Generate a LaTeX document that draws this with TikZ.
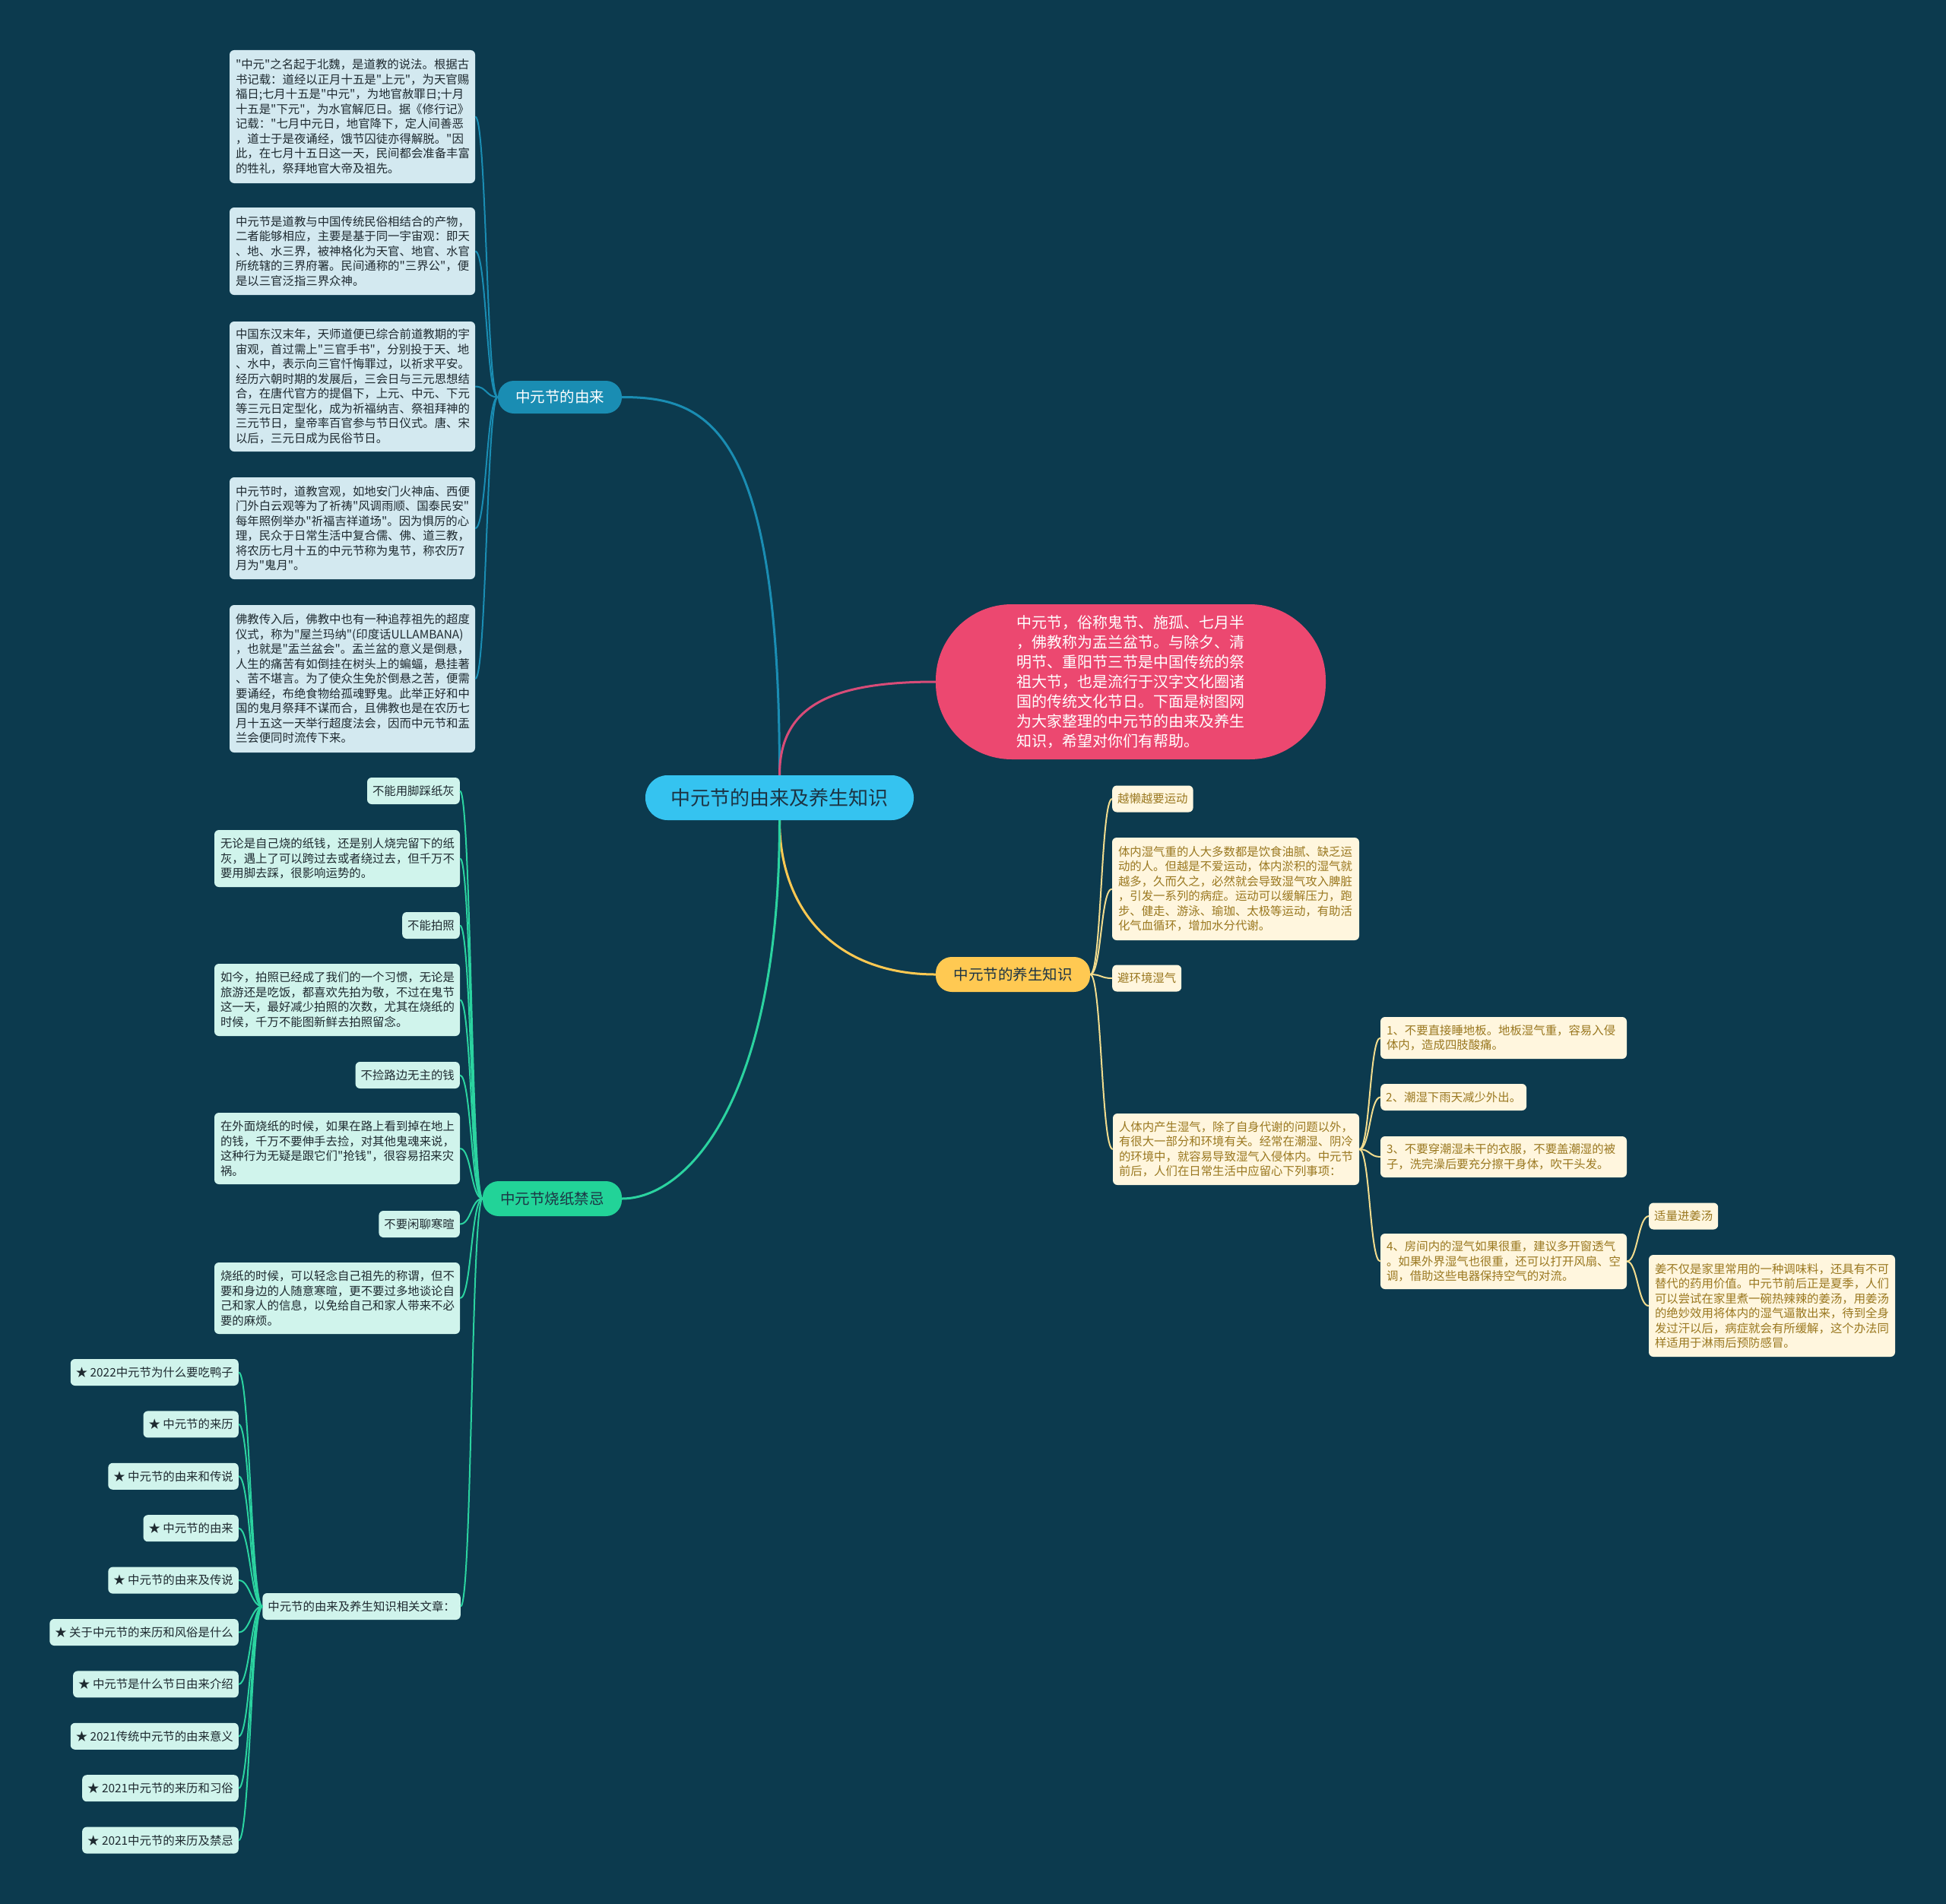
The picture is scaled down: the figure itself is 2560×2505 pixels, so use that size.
\documentclass[tikz,border=0pt]{standalone}
\usepackage{fontspec}
\setmainfont{Noto Sans CJK SC}
\newfontfamily\cjkplain{Noto Sans CJK SC}
\definecolor{bg}{HTML}{0C3A4E}
\definecolor{rootc}{HTML}{35C3F0}
\definecolor{roottext}{HTML}{1C3444}
\definecolor{pinkc}{HTML}{EC4870}
\definecolor{pinkline}{HTML}{D84C78}
\definecolor{bluec}{HTML}{1A8DB3}
\definecolor{yelc}{HTML}{FFC952}
\definecolor{yelline}{HTML}{F2DC8E}
\definecolor{greenc}{HTML}{22D398}
\definecolor{greenline}{HTML}{2BD3A0}
\definecolor{bluebox}{HTML}{D3E9F0}
\definecolor{greenbox}{HTML}{D0F4EC}
\definecolor{yelbox}{HTML}{FFF6DE}
\definecolor{yeltext}{HTML}{9A7820}
\definecolor{darktext}{HTML}{1E2A30}
\tikzset{
  sfont/.style={font=\cjkplain\fontsize{15.4pt}{19.5pt}\selectfont},
  bbox/.style={sfont, fill=bluebox, text=darktext, rounded corners=6pt, inner xsep=8pt, inner ysep=4pt, align=left},
  gbox/.style={bbox, fill=greenbox},
  ybox/.style={bbox, fill=yelbox, text=yeltext},
  shortbox/.style={minimum height=35pt, inner xsep=7pt},
  branch/.style={font=\cjkplain\fontsize{19.5pt}{23pt}\selectfont, rounded corners=21pt, inner sep=0pt},
  bline/.style={draw=bluec, line width=2pt},
  gline/.style={draw=greenline, line width=2pt},
  yline/.style={draw=yelline, line width=2pt},
  mainline/.style={line width=3pt},
}
\begin{document}
\begin{tikzpicture}[x=1pt,y=-1pt]
\useasboundingbox (0,0) rectangle (2560,2505);
\fill[bg] (0,0) rectangle (2560,2505);

% main nodes
\node[font=\cjkplain\fontsize{26pt}{30pt}\selectfont, fill=rootc, text=roottext, rounded corners=29pt, minimum width=353pt, minimum height=59pt, inner sep=0pt] (root) at (1025.5,1049.5) {中元节的由来及养生知识};
\node[fill=pinkc, text=white, rounded corners=100pt, minimum width=513pt, minimum height=204pt, inner sep=0pt, font=\cjkplain\fontsize{20pt}{26pt}\selectfont, align=left] (intro) at (1487.5,897) {中元节，俗称鬼节、施孤、七月半\\，佛教称为盂兰盆节。与除夕、清\\明节、重阳节三节是中国传统的祭\\祖大节，也是流行于汉字文化圈诸\\国的传统文化节日。下面是树图网\\为大家整理的中元节的由来及养生\\知识，希望对你们有帮助。};
\node[branch, fill=bluec, text=white, minimum width=163pt, minimum height=43pt] (origin) at (736.5,522.5) {中元节的由来};
\node[branch, fill=yelc, text=roottext, minimum width=203pt, minimum height=46pt] (health) at (1332.5,1282) {中元节的养生知识};
\node[branch, fill=greenc, text=roottext, minimum width=183pt, minimum height=46pt] (taboo) at (726.5,1577) {中元节烧纸禁忌};

\draw[mainline, bluec] (root.north) .. controls +(0,-460) and +(112,0) .. (origin.east);
\draw[mainline, pinkline] (root.north) .. controls +(0,-90) and +(-140,0) .. (intro.west);
\draw[mainline, yelc] (root.south) .. controls +(0,120) and +(-130,0) .. (health.west);
\draw[mainline, greenline] (root.south) .. controls +(0,370) and +(85,0) .. (taboo.east);

% blue children
\node[bbox, text width=307pt, minimum height=175pt] (b1) at (463.5,153.5) {"中元"之名起于北魏，是道教的说法。根据古\\书记载：道经以正月十五是"上元"，为天官赐\\福日;七月十五是"中元"，为地官赦罪日;十月\\十五是"下元"，为水官解厄日。据《修行记》\\记载："七月中元日，地官降下，定人间善恶\\，道士于是夜诵经，饿节囚徒亦得解脱。"因\\此，在七月十五日这一天，民间都会准备丰富\\的牲礼，祭拜地官大帝及祖先。};
\node[bbox, text width=307pt, minimum height=115pt] (b2) at (463.5,330.5) {中元节是道教与中国传统民俗相结合的产物，\\二者能够相应，主要是基于同一宇宙观：即天\\、地、水三界，被神格化为天官、地官、水官\\所统辖的三界府署。民间通称的"三界公"，便\\是以三官泛指三界众神。};
\node[bbox, text width=307pt, minimum height=171pt] (b3) at (463.5,508.5) {中国东汉末年，天师道便已综合前道教期的宇\\宙观，首过需上"三官手书"，分别投于天、地\\、水中，表示向三官忏悔罪过，以祈求平安。\\经历六朝时期的发展后，三会日与三元思想结\\合，在唐代官方的提倡下，上元、中元、下元\\等三元日定型化，成为祈福纳吉、祭祖拜神的\\三元节日，皇帝率百官参与节日仪式。唐、宋\\以后，三元日成为民俗节日。};
\node[bbox, text width=307pt, minimum height=134pt] (b4) at (463.5,695) {中元节时，道教宫观，如地安门火神庙、西便\\门外白云观等为了祈祷"风调雨顺、国泰民安"\\每年照例举办"祈福吉祥道场"。因为惧厉的心\\理，民众于日常生活中复合儒、佛、道三教，\\将农历七月十五的中元节称为鬼节，称农历7\\月为"鬼月"。};
\node[bbox, text width=307pt, minimum height=194pt] (b5) at (463.5,893) {佛教传入后，佛教中也有一种追荐祖先的超度\\仪式，称为"屋兰玛纳"(印度话ULLAMBANA)\\，也就是"盂兰盆会"。盂兰盆的意义是倒悬，\\人生的痛苦有如倒挂在树头上的蝙蝠，悬挂著\\、苦不堪言。为了使众生免於倒悬之苦，便需\\要诵经，布绝食物给孤魂野鬼。此举正好和中\\国的鬼月祭拜不谋而合，且佛教也是在农历七\\月十五这一天举行超度法会，因而中元节和盂\\兰会便同时流传下来。};
\foreach \c in {b1,b2,b3,b4,b5}
  \draw[bline] (origin.west) .. controls +(-15,0) and +(15,0) .. (\c.east);

% yellow children
\node[ybox, shortbox, anchor=west] (y1) at (1463,1051) {越懒越要运动};
\node[ybox, text width=309pt, minimum height=135pt] (y2) at (1625.5,1169.5) {体内湿气重的人大多数都是饮食油腻、缺乏运\\动的人。但越是不爱运动，体内淤积的湿气就\\越多，久而久之，必然就会导致湿气攻入脾脏\\，引发一系列的病症。运动可以缓解压力，跑\\步、健走、游泳、瑜珈、太极等运动，有助活\\化气血循环，增加水分代谢。};
\node[ybox, shortbox, anchor=west] (y3) at (1463,1287) {避环境湿气};
\node[ybox, text width=308pt, minimum height=94pt] (y4) at (1626,1512) {人体内产生湿气，除了自身代谢的问题以外，\\有很大一部分和环境有关。经常在潮湿、阴冷\\的环境中，就容易导致湿气入侵体内。中元节\\前后，人们在日常生活中应留心下列事项：};
\foreach \c in {y1,y2,y3,y4}
  \draw[yline] (health.east) .. controls +(15,0) and +(-15,0) .. (\c.west);

\node[ybox, text width=308pt, minimum height=55pt] (s1) at (1978,1365.5) {1、不要直接睡地板。地板湿气重，容易入侵\\体内，造成四肢酸痛。};
\node[ybox, shortbox, anchor=west] (s2) at (1816,1443.5) {2、潮湿下雨天减少外出。};
\node[ybox, text width=308pt, minimum height=54pt] (s3) at (1978,1522) {3、不要穿潮湿未干的衣服，不要盖潮湿的被\\子，洗完澡后要充分擦干身体，吹干头发。};
\node[ybox, text width=308pt, minimum height=73pt] (s4) at (1978,1659.5) {4、房间内的湿气如果很重，建议多开窗透气\\。如果外界湿气也很重，还可以打开风扇、空\\调，借助这些电器保持空气的对流。};
\foreach \c in {s1,s2,s3,s4}
  \draw[yline] (y4.east) .. controls +(14,0) and +(-14,0) .. (\c.west);

\node[ybox, shortbox, anchor=west] (g1) at (2169,1600) {适量进姜汤};
\node[ybox, text width=308pt, minimum height=134pt] (g2) at (2331,1718) {姜不仅是家里常用的一种调味料，还具有不可\\替代的药用价值。中元节前后正是夏季，人们\\可以尝试在家里煮一碗热辣辣的姜汤，用姜汤\\的绝妙效用将体内的湿气逼散出来，待到全身\\发过汗以后，病症就会有所缓解，这个办法同\\样适用于淋雨后预防感冒。};
\foreach \c in {g1,g2}
  \draw[yline] (s4.east) .. controls +(14,0) and +(-14,0) .. (\c.west);

% green children
\node[gbox, shortbox, anchor=east] (k1) at (605,1040.5) {不能用脚踩纸灰};
\node[gbox, text width=307pt, minimum height=75pt] (k2) at (443.5,1129.5) {无论是自己烧的纸钱，还是别人烧完留下的纸\\灰，遇上了可以跨过去或者绕过去，但千万不\\要用脚去踩，很影响运势的。};
\node[gbox, shortbox, anchor=east] (k3) at (605,1217.5) {不能拍照};
\node[gbox, text width=307pt, minimum height=95pt] (k4) at (443.5,1315.5) {如今，拍照已经成了我们的一个习惯，无论是\\旅游还是吃饭，都喜欢先拍为敬，不过在鬼节\\这一天，最好减少拍照的次数，尤其在烧纸的\\时候，千万不能图新鲜去拍照留念。};
\node[gbox, shortbox, anchor=east] (k5) at (605,1414.5) {不捡路边无主的钱};
\node[gbox, text width=307pt, minimum height=94pt] (k6) at (443.5,1511) {在外面烧纸的时候，如果在路上看到掉在地上\\的钱，千万不要伸手去捡，对其他鬼魂来说，\\这种行为无疑是跟它们"抢钱"，很容易招来灾\\祸。};
\node[gbox, shortbox, anchor=east] (k7) at (605,1610.5) {不要闲聊寒暄};
\node[gbox, text width=307pt, minimum height=94pt] (k8) at (443.5,1708) {烧纸的时候，可以轻念自己祖先的称谓，但不\\要和身边的人随意寒暄，更不要过多地谈论自\\己和家人的信息，以免给自己和家人带来不必\\要的麻烦。};
\node[gbox, shortbox, anchor=east] (k9) at (606,2113.5) {中元节的由来及养生知识相关文章：};
\foreach \c in {k1,k2,k3,k4,k5,k6,k7,k8,k9}
  \draw[gline] (taboo.west) .. controls +(-15,0) and +(15,0) .. (\c.east);

% related articles
\foreach \n/\t [count=\i from 0] in {a1/2022中元节为什么要吃鸭子, a2/中元节的来历, a3/中元节的由来和传说, a4/中元节的由来, a5/中元节的由来及传说, a6/关于中元节的来历和风俗是什么, a7/中元节是什么节日由来介绍, a8/2021传统中元节的由来意义, a9/2021中元节的来历和习俗, a10/2021中元节的来历及禁忌} {
  \node[gbox, shortbox, anchor=east] (\n) at (314,1805.5+68.4*\i) {★ \t};
  \draw[gline] (k9.west) .. controls +(-15,0) and +(15,0) .. (\n.east);
}
\end{tikzpicture}
\end{document}
